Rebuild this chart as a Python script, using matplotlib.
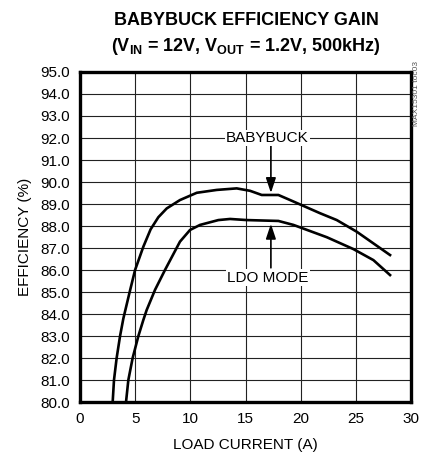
import matplotlib
matplotlib.use('Agg')
import matplotlib.pyplot as plt
from matplotlib import font_manager

# pick a narrow Arial-like font if it is there
names = {f.name for f in font_manager.fontManager.ttflist}
FONT = 'Liberation Sans Narrow' if 'Liberation Sans Narrow' in names else 'Liberation Sans'
plt.rcParams['font.family'] = [FONT, 'DejaVu Sans']
plt.rcParams['mathtext.fontset'] = 'custom'
plt.rcParams['mathtext.rm'] = FONT
plt.rcParams['mathtext.bf'] = FONT + ':bold'

# data
babybuck_x = [2.96, 3.08, 3.32, 3.63, 3.93, 4.5, 4.99, 5.74, 6.4, 7.1, 7.86,
              9.06, 10.58, 12.39, 14.2, 15.41, 16.47, 17.98, 19.04, 21.76,
              23.27, 25.08, 26.59, 28.1]
babybuck_y = [80.0, 81.0, 82.0, 83.0, 83.8, 85.0, 86.0, 87.06, 87.85, 88.4,
              88.8, 89.18, 89.51, 89.64, 89.71, 89.6, 89.41, 89.41, 89.18,
              88.58, 88.27, 87.74, 87.21, 86.68]
ldo_x = [4.17, 4.38, 4.77, 5.29, 5.74, 6.04, 6.8, 7.7, 9.06, 9.97, 10.88,
         12.54, 13.6, 15.11, 17.98, 19.34, 22.37, 24.78, 26.59, 28.1]
ldo_y = [80.0, 81.0, 82.0, 83.0, 83.73, 84.18, 85.1, 86.0, 87.29, 87.82,
         88.05, 88.27, 88.32, 88.27, 88.23, 88.05, 87.49, 86.95, 86.45, 85.77]

x_ticks = [0, 5, 10, 15, 20, 25, 30]
y_ticks = [80 + i for i in range(16)]

fig = plt.figure(figsize=(4.22, 4.66), dpi=100)
ax = fig.add_axes([0.1896, 0.1373, 0.7844, 0.7082])

ax.plot(babybuck_x, babybuck_y, color='black', lw=1.9, solid_joinstyle='round')
ax.plot(ldo_x, ldo_y, color='black', lw=1.9, solid_joinstyle='round')

ax.set_xlim(0, 30)
ax.set_ylim(80, 95)
ax.set_xticks(x_ticks)
ax.set_yticks(y_ticks)
ax.set_yticklabels(['%.1f' % v for v in y_ticks])
ax.tick_params(length=0, labelsize=11, pad=7)
ax.grid(True, color='#222222', lw=0.8)
ax.set_axisbelow(True)
for s in ax.spines.values():
    s.set_linewidth(2.4)

ax.set_xlabel('LOAD CURRENT (A)', fontsize=11, labelpad=9)
ax.set_ylabel('EFFICIENCY (%)', fontsize=11, labelpad=6)

# labels with arrows
arrow = dict(arrowstyle='-|>,head_length=0.9,head_width=0.3', color='black',
             lw=1.2, shrinkA=0, shrinkB=0)
ax.annotate('', xy=(17.3, 89.5), xytext=(17.3, 91.7), arrowprops=arrow)
ax.annotate('', xy=(17.3, 88.1), xytext=(17.3, 86.1), arrowprops=arrow)
ax.text(17.0, 92.0, 'BABYBUCK', ha='center', va='center', fontsize=11,
        bbox=dict(facecolor='white', edgecolor='none', pad=1))
ax.text(17.0, 85.65, 'LDO MODE', ha='center', va='center', fontsize=11,
        bbox=dict(facecolor='white', edgecolor='none', pad=1))

fig.text(0.583, 0.957, 'BABYBUCK EFFICIENCY GAIN', ha='center', va='center',
         fontsize=13, fontweight='bold')
fig.text(0.583, 0.901,
         r'(V$_{\mathbf{IN}}$ = 12V, V$_{\mathbf{OUT}}$ = 1.2V, 500kHz)',
         ha='center', va='center', fontsize=13, fontweight='bold')
fig.text(0.986, 0.80, 'MAX15301 toc03', rotation=90, ha='center', va='center',
         fontsize=6, color='#555555')

fig.savefig('out.png', dpi=100)
